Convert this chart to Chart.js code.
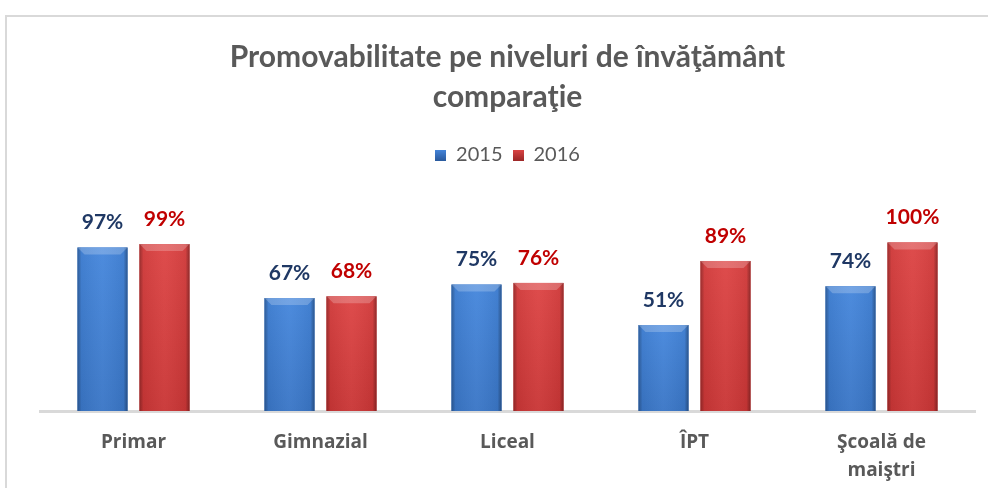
<!DOCTYPE html>
<html>
<head>
<meta charset="utf-8">
<script src="https://cdn.jsdelivr.net/npm/chart.js@4/dist/chart.umd.min.js"></script>
<style>
  html, body { margin: 0; padding: 0; background: #fff; }
  #wrap { position: relative; width: 988px; height: 488px; overflow: hidden; }
  #frame { position: absolute; left: 5px; top: 15px; width: 1200px; height: 600px; border-left: 2px solid #d9d9d9; border-top: 2px solid #d9d9d9; }
  #chart { position: absolute; left: 0; top: 0; }
</style>
</head>
<body>
<div id="wrap">
  <div id="frame"></div>
  <canvas id="chart" width="988" height="488"></canvas>
</div>
<script>
const CATEGORIES = ["Primar", "Gimnazial", "Liceal", "ÎPT", ["Şcoală de", "maiştri"]];
const SERIES_NAMES = ["2015", "2016"];
const VALUES_2015 = [97, 67, 75, 51, 74];
const VALUES_2016 = [99, 68, 76, 89, 100];

const BAR_COLORS = {
  "2015": { light: "#4687dc", mid: "#3a76c6", dark: "#2a5a9e", label: "#1f3864" },
  "2016": { light: "#dd4545", mid: "#c93636", dark: "#9c2828", label: "#c00000" },
};

// bevel look for bars, drawn over each bar element
const bevelPlugin = {
  id: "bevel",
  afterDatasetsDraw(chart) {
    const ctx = chart.ctx;
    chart.data.datasets.forEach((ds, di) => {
      const c = BAR_COLORS[ds.label];
      chart.getDatasetMeta(di).data.forEach((bar) => {
        const { x, y, base, width } = bar.getProps(["x", "y", "base", "width"], true);
        const l = x - width / 2;
        const r = x + width / 2;
        const h = base - y;
        ctx.save();
        const gv = ctx.createLinearGradient(0, y, 0, base);
        gv.addColorStop(0, c.light);
        gv.addColorStop(1, c.mid);
        ctx.fillStyle = gv;
        ctx.fillRect(l, y, width, h);
        const gh = ctx.createLinearGradient(l, 0, r, 0);
        gh.addColorStop(0, "rgba(0,0,0,0.3)");
        gh.addColorStop(0.08, "rgba(0,0,0,0.05)");
        gh.addColorStop(0.5, "rgba(255,255,255,0.04)");
        gh.addColorStop(0.92, "rgba(0,0,0,0.05)");
        gh.addColorStop(1, "rgba(0,0,0,0.35)");
        ctx.fillStyle = gh;
        ctx.fillRect(l, y, width, h);
        // top bevel
        const bv = 7;
        ctx.beginPath();
        ctx.moveTo(l, y);
        ctx.lineTo(r, y);
        ctx.lineTo(r - bv, y + bv);
        ctx.lineTo(l + bv, y + bv);
        ctx.closePath();
        ctx.fillStyle = "rgba(255,255,255,0.22)";
        ctx.fill();
        ctx.restore();
      });
    });
  },
};

// value labels above bars
const valueLabelPlugin = {
  id: "valueLabels",
  afterDatasetsDraw(chart) {
    const ctx = chart.ctx;
    ctx.save();
    ctx.font = "bold 21px Lato";
    ctx.textAlign = "center";
    ctx.textBaseline = "middle";
    chart.data.datasets.forEach((ds, di) => {
      ctx.fillStyle = BAR_COLORS[ds.label].label;
      chart.getDatasetMeta(di).data.forEach((bar, i) => {
        ctx.fillText(ds.data[i] + "%", bar.x, bar.y - 25);
      });
    });
    ctx.restore();
  },
};

function legendBox(color) {
  const cv = document.createElement("canvas");
  cv.width = 11;
  cv.height = 11;
  const c = cv.getContext("2d");
  const g = c.createLinearGradient(0, 0, 0, 11);
  g.addColorStop(0, color.light);
  g.addColorStop(1, color.dark);
  c.fillStyle = g;
  c.fillRect(0, 0, 11, 11);
  return cv;
}

new Chart(document.getElementById("chart"), {
  type: "bar",
  data: {
    labels: CATEGORIES,
    datasets: [
      { label: SERIES_NAMES[0], data: VALUES_2015, backgroundColor: BAR_COLORS["2015"].mid },
      { label: SERIES_NAMES[1], data: VALUES_2016, backgroundColor: BAR_COLORS["2016"].mid },
    ],
  },
  options: {
    responsive: false,
    animation: false,
    datasets: { bar: { categoryPercentage: 0.663, barPercentage: 0.806 } },
    layout: { padding: { left: 40, right: 13, top: 0, bottom: 0 } },
    plugins: {
      title: {
        display: true,
        text: ["Promovabilitate pe niveluri de învăţământ", "comparaţie"],
        color: "#595959",
        font: { family: "Lato", size: 30, weight: "bold", lineHeight: 40 / 30 },
        padding: { top: 37, bottom: 18 },
      },
      legend: {
        display: true,
        labels: {
          color: "#595959",
          font: { family: "Lato", size: 20 },
          boxWidth: 11,
          boxHeight: 11,
          padding: 10,
          usePointStyle: true,
          generateLabels: (chart) =>
            chart.data.datasets.map((ds, i) => ({
              text: ds.label,
              fontColor: "#595959",
              pointStyle: legendBox(BAR_COLORS[ds.label]),
              datasetIndex: i,
              lineWidth: 0,
            })),
        },
      },
      tooltip: { enabled: false },
    },
    scales: {
      y: { display: false, min: 0, max: 140 },
      x: {
        grid: { display: false, drawTicks: false },
        border: { display: true, color: "#d9d9d9", width: 3 },
        ticks: {
          color: "#595959",
          font: { family: "Open Sans", size: 19, weight: "bold", lineHeight: 28 / 19 },
          padding: 18,
          maxRotation: 0,
          autoSkip: false,
        },
        afterFit: (scale) => {
          scale.height = 77;
        },
      },
    },
  },
  plugins: [bevelPlugin, valueLabelPlugin],
});
</script>
</body>
</html>
